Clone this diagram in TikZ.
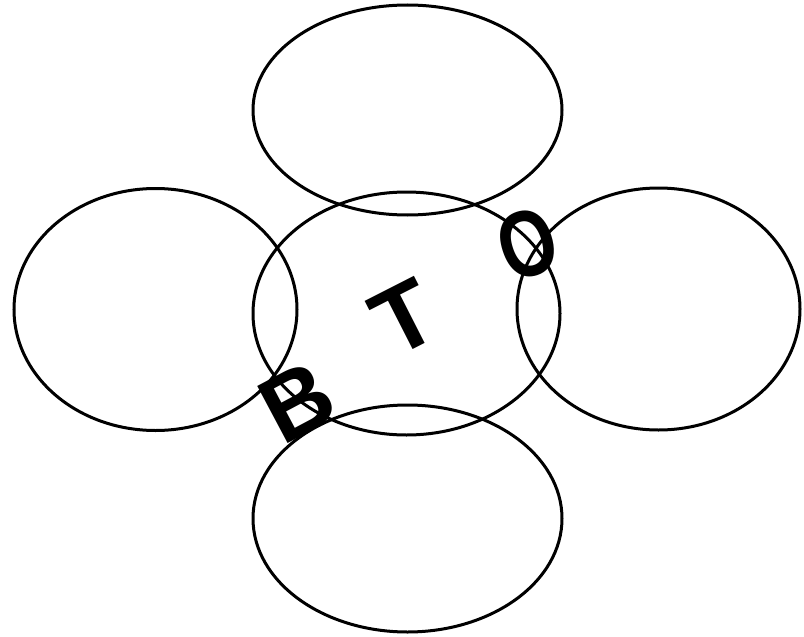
\documentclass[tikz,border=0pt]{standalone}
\usepackage{fontspec}
\setmainfont{Liberation Sans}
\usepackage{tikz}
\usetikzlibrary{shapes.geometric}
\tikzset{
    petal/.style={draw=black, ellipse, line width=3pt, inner sep=0pt, outer sep=0pt},
    letter/.style={inner sep=0pt, font=\fontsize{94}{100}\selectfont\bfseries},
}

\begin{document}
\begin{tikzpicture}[x=1pt, y=-1pt]

\useasboundingbox (0,0) rectangle (804,637);

% the five ellipses
\node[petal, minimum width=309pt, minimum height=210pt] (ptop) at (407.5,110) {};
\node[petal, minimum width=283pt, minimum height=242pt] (pleft) at (155.5,309.5) {};
\node[petal, minimum width=307pt, minimum height=243pt] (pmid) at (406.5,313.5) {};
\node[petal, minimum width=283pt, minimum height=242pt] (pright) at (658.5,309) {};
\node[petal, minimum width=309pt, minimum height=227pt] (pbot) at (407.5,518.5) {};

% tilted letters
\node[letter, rotate=27] (lt) at (404,318) {T};
\node[letter, rotate=28] (lb) at (297,402) {B};
\node[letter, rotate=18, xscale=0.78] (lo) at (528,244) {O};

\end{tikzpicture}
\end{document}
